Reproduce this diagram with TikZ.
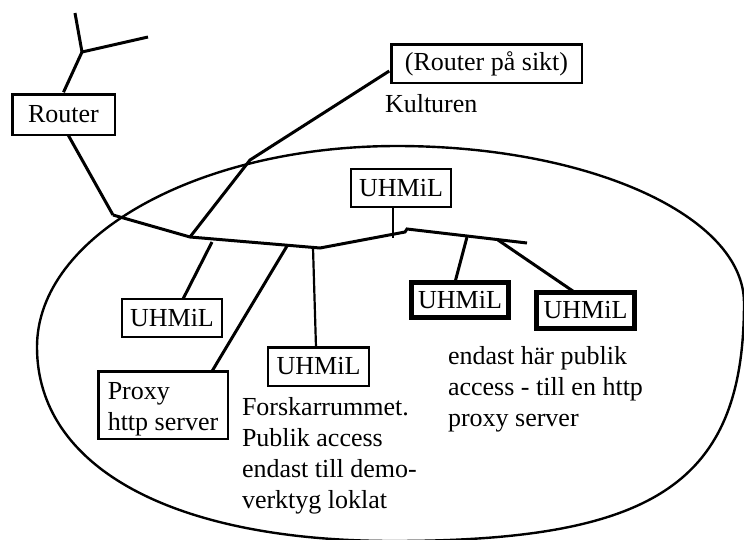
\documentclass[tikz,border=0pt]{standalone}
\usepackage{fontspec}
\setmainfont{Liberation Serif}
\usetikzlibrary{calc}
\tikzset{
  box/.style={draw, line width=2.5pt, inner sep=0pt, outer sep=0pt, minimum width=100pt, minimum height=38pt},
  thickbox/.style={draw, line width=5pt, inner sep=0pt, outer sep=0pt, minimum width=97pt, minimum height=35.5pt},
  wire/.style={line width=3pt},
  thinwire/.style={line width=2.2pt},
  label/.style={anchor=base west, inner sep=0pt, outer sep=0pt},
  oval/.style={line width=2.4pt}
}
\begin{document}
\begin{tikzpicture}[x=1pt, y=-1pt, font=\fontsize{26}{31}\selectfont, line join=miter]
\useasboundingbox (0,0) rectangle (744,539);

% enclosing oval
\coordinate (oL) at (37,347);
\coordinate (oT) at (397,146);
\coordinate (oR) at (744,303);
\coordinate (oB) at (393,541);
\draw[oval] (oL) .. controls (37,236) and (198,146) .. (oT)
  .. controls (589,146) and (744,216) .. (oR)
  .. controls (744,482) and (656,541) .. (oB)
  .. controls (172,541) and (37,467) .. (oL) -- cycle;

% boxes
\node[box, minimum width=102.5pt, minimum height=40.5pt] (router) at (63.5,114.5) {Router};
\node[box, minimum width=190.5pt, minimum height=38.5pt] (sikt) at (486.5,63.5) {(Router på sikt)};
\node[box] (u0) at (401,188) {UHMiL};
\node[box] (u1) at (172,318) {UHMiL};
\node[box, minimum width=101pt, minimum height=38.5pt] (u2) at (318.5,366.5) {UHMiL};
\node[box, minimum width=129.5pt, minimum height=67.5pt, text depth=29pt] (proxy) at (163,405)
  {\vtop{\baselineskip=31pt\hbox{Proxy}\hbox{http server}}};
\node[thickbox] (u3) at (460,300) {UHMiL};
\node[thickbox, minimum width=98pt, minimum height=36pt] (u4) at (585.5,310.5) {UHMiL};

% texts
\node[label] (kult) at (385,112) {Kulturen};
\node[label] (fors) at (242,415) {\vtop{\baselineskip=31pt\hbox{Forskarrummet.}\hbox{Publik access}\hbox{endast till demo-}\hbox{verktyg loklat}}};
\node[label] (publ) at (448,364) {\vtop{\baselineskip=31pt\hbox{endast här publik}\hbox{access - till en http}\hbox{proxy server}}};

% coordinates
\coordinate (t0) at (75,13);
\coordinate (t1) at (82,52);
\coordinate (t2) at (148,37);
\coordinate (j1) at (113,215);
\coordinate (j2) at (190,237);
\coordinate (j3) at (320,248);
\coordinate (j4) at (405,232);
\coordinate (j5) at (407,229);
\coordinate (j6) at (527,243);
\coordinate (k) at (250,160);
\coordinate (b1) at (212,242);
\coordinate (b2) at (287,246);
\coordinate (b3) at (313,248);
\coordinate (b4) at (393,238);
\coordinate (b5) at (467,237);
\coordinate (b6) at (498,240);

% outside links
\draw[wire] (t0) -- (t1) -- (t2);
\draw[wire] (t1) -- ($(router.north)+(0,-2)$);
\draw[wire] ($(router.south)+(4.5,0)$) -- (j1);
\draw[wire] (j2) -- (k) -- ($(sikt.west)+(-2,7.5)$);

% backbone
\draw[wire] (j1) -- (j2) -- (j3) -- (j4) -- (j5) -- (j6);

% drops
\draw[wire] (b1) -- ($(u1.north)+(11,0)$);
\draw[wire] (b2) -- ($(proxy.north)+(49,0)$);
\draw[thinwire] (b3) -- ($(u2.north)+(-2.5,0)$);
\draw[thinwire] ($(u0.south)+(-8,0)$) -- (b4);
\draw[wire] (b5) -- ($(u3.north)+(-5,0)$);
\draw[wire] (b6) -- ($(u4.north)+(-10.5,0)$);
\end{tikzpicture}
\end{document}
